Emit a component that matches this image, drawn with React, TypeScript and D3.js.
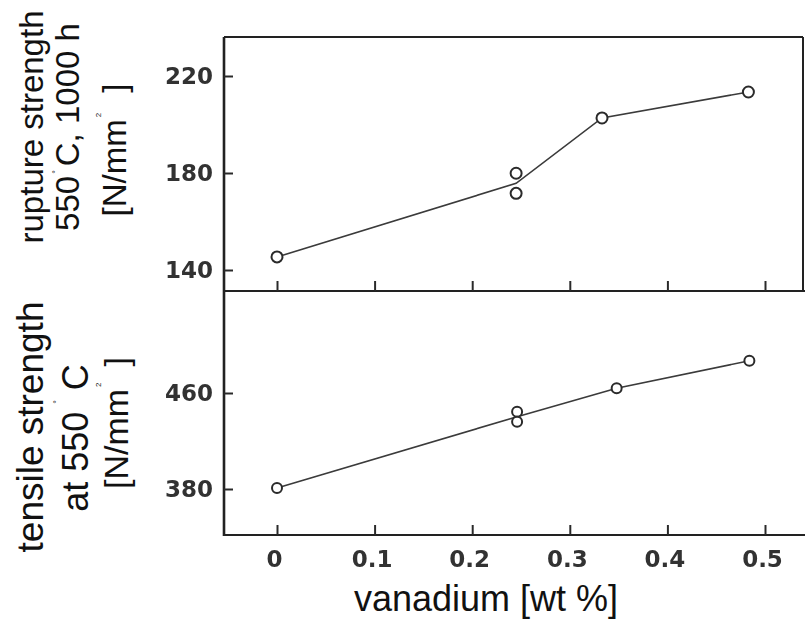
import React, { useRef, useEffect } from 'react';
import * as d3 from 'd3';

// vanadium content [wt %] vs. strength
const xTicks = [0, 0.1, 0.2, 0.3, 0.4, 0.5];
const ruptureTicks = [140, 180, 220];
const tensileTicks = [380, 460];

const ruptureV = [0, 0.245, 0.245, 0.333, 0.483];
const ruptureS = [145.4, 179.9, 171.6, 202.7, 213.4];

const tensileV = [0, 0.246, 0.246, 0.348, 0.484];
const tensileS = [380.8, 444.4, 436.1, 463.9, 486.9];

const W = 805;
const H = 621;

const App = () => {
    const ref = useRef<SVGSVGElement>(null);

    useEffect(() => {
        const svg = d3.select(ref.current);
        svg.selectAll("*").remove();

        const left = 224, right = 803, top = 37, mid = 291, bottom = 535;

        const x = d3.scaleLinear().domain([0, 0.5]).range([277, 765]);
        const yTop = d3.scaleLinear().domain([140, 220]).range([270, 76]);
        const yBot = d3.scaleLinear().domain([380, 460]).range([489, 393]);

        // a little softness, like the scan
        svg.append("defs").append("filter").attr("id", "soft")
            .append("feGaussianBlur").attr("stdDeviation", 0.45);

        const plot = svg.append("g").attr("filter", "url(#soft)");

        // frame
        const frame = [
            [[left, top], [right, top]],
            [[left, top], [left, bottom + 1]],
            [[right, top], [right, mid]],
            [[left, mid], [W, mid]],
            [[left, bottom], [W, bottom]],
        ];
        plot.selectAll("line.frame").data(frame).join("line")
            .attr("x1", d => d[0][0]).attr("y1", d => d[0][1])
            .attr("x2", d => d[1][0]).attr("y2", d => d[1][1])
            .attr("stroke", "#222").attr("stroke-width", (d, i) => i === 1 ? 2.6 : 2);

        const tickStyle = (g) => {
            g.select(".domain").remove();
            g.selectAll(".tick line").attr("stroke", "#2a2a2a").attr("stroke-width", 2);
            g.selectAll(".tick text")
                .attr("fill", "#333")
                .attr("font-family", "DejaVu Sans, sans-serif")
                .attr("font-weight", "bold")
                .attr("font-size", 23);
        };

        // x ticks, pointing inward
        plot.append("g").attr("transform", `translate(0,${mid})`)
            .call(d3.axisTop(x).tickValues(xTicks).tickSize(10).tickFormat(() => ""))
            .call(tickStyle);
        plot.append("g").attr("transform", `translate(-3,${bottom})`)
            .call(d3.axisBottom(x).tickValues(xTicks).tickSizeInner(-10).tickSizeOuter(0).tickPadding(16)
                .tickFormat(d => d === 0 ? "0" : d3.format(".1f")(d)))
            .call(tickStyle)
            .selectAll(".tick line").attr("transform", "translate(3,0)");

        // y ticks
        plot.append("g").attr("transform", `translate(${left},0)`)
            .call(d3.axisLeft(yTop).tickValues(ruptureTicks).tickSizeInner(-9).tickSizeOuter(0).tickPadding(11))
            .call(tickStyle);
        plot.append("g").attr("transform", `translate(${left},0)`)
            .call(d3.axisLeft(yBot).tickValues(tensileTicks).tickSizeInner(-9).tickSizeOuter(0).tickPadding(11))
            .call(tickStyle);

        // series: line through the mean of repeated measurements, open circles for each
        const drawSeries = (xs, ys, y, r) => {
            const pts = xs.map((v, i) => ({ v, s: ys[i] }));
            const means = d3.rollups(pts, g => d3.mean(g, d => d.s), d => d.v)
                .sort((a, b) => a[0] - b[0]);
            const line = d3.line().x(d => x(d[0])).y(d => y(d[1]));
            plot.append("path").datum(means)
                .attr("fill", "none").attr("stroke", "#3a3a3a").attr("stroke-width", 1.6)
                .attr("d", line);
            plot.selectAll(null).data(pts).join("circle")
                .attr("cx", d => x(d.v)).attr("cy", d => y(d.s)).attr("r", r)
                .attr("fill", "#fff").attr("stroke", "#2a2a2a").attr("stroke-width", 2);
        };
        drawSeries(ruptureV, ruptureS, yTop, 5.5);
        drawSeries(tensileV, tensileS, yBot, 5);

        // axis titles
        const font = "Liberation Sans, Arial, sans-serif";
        svg.append("text")
            .attr("x", 486).attr("y", 611)
            .attr("text-anchor", "middle")
            .attr("font-family", font).attr("font-size", 36).attr("fill", "#111")
            .text("vanadium [wt %]");

        const vtext = (bx, cy, size) => svg.append("text")
            .attr("transform", `translate(${bx},${cy}) rotate(-90)`)
            .attr("text-anchor", "middle")
            .attr("font-family", font).attr("font-size", size).attr("fill", "#111");

        // rupture strength panel
        vtext(43, 127, 33).text("rupture strength");
        const r2 = vtext(79, 127, 33);
        r2.append("tspan").text("550");
        r2.append("tspan").attr("font-size", 9).attr("dy", -20).attr("dx", 2).text("°");
        r2.append("tspan").attr("dy", 20).attr("dx", 4).text("C, 1000 h");
        const r3 = vtext(126, 150, 33);
        r3.append("tspan").text("[N/mm");
        r3.append("tspan").attr("font-size", 8).attr("dy", -25).attr("dx", 2).text("2");
        r3.append("tspan").attr("dy", 25).attr("dx", 20).text("]");

        // tensile strength panel
        vtext(43, 427, 37).text("tensile strength");
        const t2 = vtext(88, 438, 36);
        t2.append("tspan").text("at 550");
        t2.append("tspan").attr("font-size", 9).attr("dy", -28).attr("dx", 8).text("°");
        t2.append("tspan").attr("dy", 28).attr("dx", 10).text("C");
        const t3 = vtext(128, 423, 34);
        t3.append("tspan").text("[N/mm");
        t3.append("tspan").attr("font-size", 8).attr("dy", -27).attr("dx", 2).text("2");
        t3.append("tspan").attr("dy", 27).attr("dx", 16).text("]");
    }, []);

    return (
        <svg ref={ref} width={W} height={H}
            style={{ position: 'absolute', left: 0, top: 0, background: '#fff' }}></svg>
    );
};

export default App;
